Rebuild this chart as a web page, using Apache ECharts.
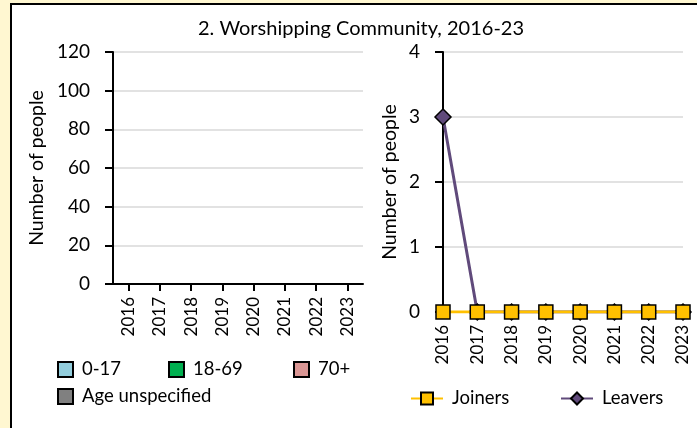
<!DOCTYPE html>
<html>
<head>
<meta charset="utf-8">
<script src="https://cdn.jsdelivr.net/npm/echarts@6/dist/echarts.min.js"></script>
<style>
  html, body { margin: 0; padding: 0; background: #FFF7D1; overflow: hidden; }
  #frame { position: absolute; left: 10px; top: 3px; width: 720px; height: 460px; background: #fff; border: 2px solid #000; box-sizing: border-box; }
  #chart { position: absolute; left: 0; top: 0; width: 697px; height: 428px; }
</style>
</head>
<body>
<div id="frame"></div>
<div id="chart"></div>
<script>
const years = ['2016','2017','2018','2019','2020','2021','2022','2023'];
const age0to17 = [0,0,0,0,0,0,0,0];
const age18to69 = [0,0,0,0,0,0,0,0];
const age70plus = [0,0,0,0,0,0,0,0];
const ageUnspecified = [0,0,0,0,0,0,0,0];
const joiners = [0,0,0,0,0,0,0,0];
const leavers = [3,0,0,0,0,0,0,0];
const leftTicks = { min: 0, max: 120, interval: 20 };
const rightTicks = { min: 0, max: 4, interval: 1 };

const FONT = 'Lato';
const chart = echarts.init(document.getElementById('chart'), null, { renderer: 'canvas' });

function yAxis(gridIndex, t, gap) {
  return {
    type: 'value', gridIndex, min: t.min, max: t.max, interval: t.interval,
    name: 'Number of people', nameLocation: 'middle', nameGap: gap,
    nameTextStyle: { fontFamily: FONT, fontSize: 19.5, color: '#000' },
    axisLine: { show: true, lineStyle: { color: '#000', width: 2 } },
    axisTick: { show: true, length: 8, lineStyle: { color: '#000', width: 2 } },
    axisLabel: { fontFamily: FONT, fontSize: 19, color: '#000', margin: 23 },
    splitLine: { show: true, lineStyle: { color: '#D9D9D9', width: 1.5 } }
  };
}
function xAxis(gridIndex, boundaryGap) {
  return {
    type: 'category', gridIndex, data: years, boundaryGap,
    axisLine: { show: true, lineStyle: { color: '#000', width: 2 } },
    axisTick: { show: true, alignWithLabel: true, length: 7, lineStyle: { color: '#000', width: 2 } },
    axisLabel: { fontFamily: FONT, fontSize: 17, color: '#000', rotate: 90, margin: 13, interval: 0 },
    splitLine: { show: false }
  };
}
function legend(name, left, top, w, h, extra) {
  return Object.assign({
    data: [name], left, top, padding: 0, itemWidth: w, itemHeight: h,
    textStyle: { fontFamily: FONT, fontSize: 18.5, color: '#000', padding: [0,0,0,4] },
    selectedMode: false
  }, extra || {});
}
const sq = { icon: 'rect', itemStyle: { borderColor: '#000', borderWidth: 2 } };

const option = {
  animation: false,
  backgroundColor: 'transparent',
  title: {
    text: '2. Worshipping Community, 2016-23', left: 193, top: 14,
    textStyle: { fontFamily: FONT, fontSize: 20, fontWeight: 'normal', color: '#000' }
  },
  grid: [
    { left: 113, top: 52, width: 250, height: 232 },
    { left: 443, top: 52, width: 240, height: 260 }
  ],
  xAxis: [xAxis(0, true), xAxis(1, false)],
  yAxis: [yAxis(0, leftTicks, 66), yAxis(1, rightTicks, 43)],
  legend: [
    legend('0-17', 57, 360, 15, 15, sq),
    legend('18-69', 168, 360, 15, 15, sq),
    legend('70+', 293, 360, 15, 15, sq),
    legend('Age unspecified', 57, 387, 15, 15, sq),
    legend('Joiners', 410, 389, 32, 15),
    legend('Leavers', 560, 389, 32, 15)
  ],
  series: [
    { name: '0-17', type: 'bar', stack: 'age', xAxisIndex: 0, yAxisIndex: 0, data: age0to17, itemStyle: { color: '#92CDDC' } },
    { name: '18-69', type: 'bar', stack: 'age', xAxisIndex: 0, yAxisIndex: 0, data: age18to69, itemStyle: { color: '#00B050' } },
    { name: '70+', type: 'bar', stack: 'age', xAxisIndex: 0, yAxisIndex: 0, data: age70plus, itemStyle: { color: '#DA9694' } },
    { name: 'Age unspecified', type: 'bar', stack: 'age', xAxisIndex: 0, yAxisIndex: 0, data: ageUnspecified, itemStyle: { color: '#808080' } },
    { name: 'Leavers', type: 'line', xAxisIndex: 1, yAxisIndex: 1, data: leavers, z: 2,
      symbol: 'diamond', symbolSize: 16, showAllSymbol: true,
      lineStyle: { color: '#604A7B', width: 3 },
      itemStyle: { color: '#604A7B', borderColor: '#000', borderWidth: 1.5 } },
    { name: 'Joiners', type: 'line', xAxisIndex: 1, yAxisIndex: 1, data: joiners, z: 3,
      symbol: 'rect', symbolSize: 14, showAllSymbol: true,
      lineStyle: { color: '#FFC000', width: 3 },
      itemStyle: { color: '#FFC000', borderColor: '#000', borderWidth: 1.5 } }
  ]
};
chart.setOption(option);
</script>
</body>
</html>
